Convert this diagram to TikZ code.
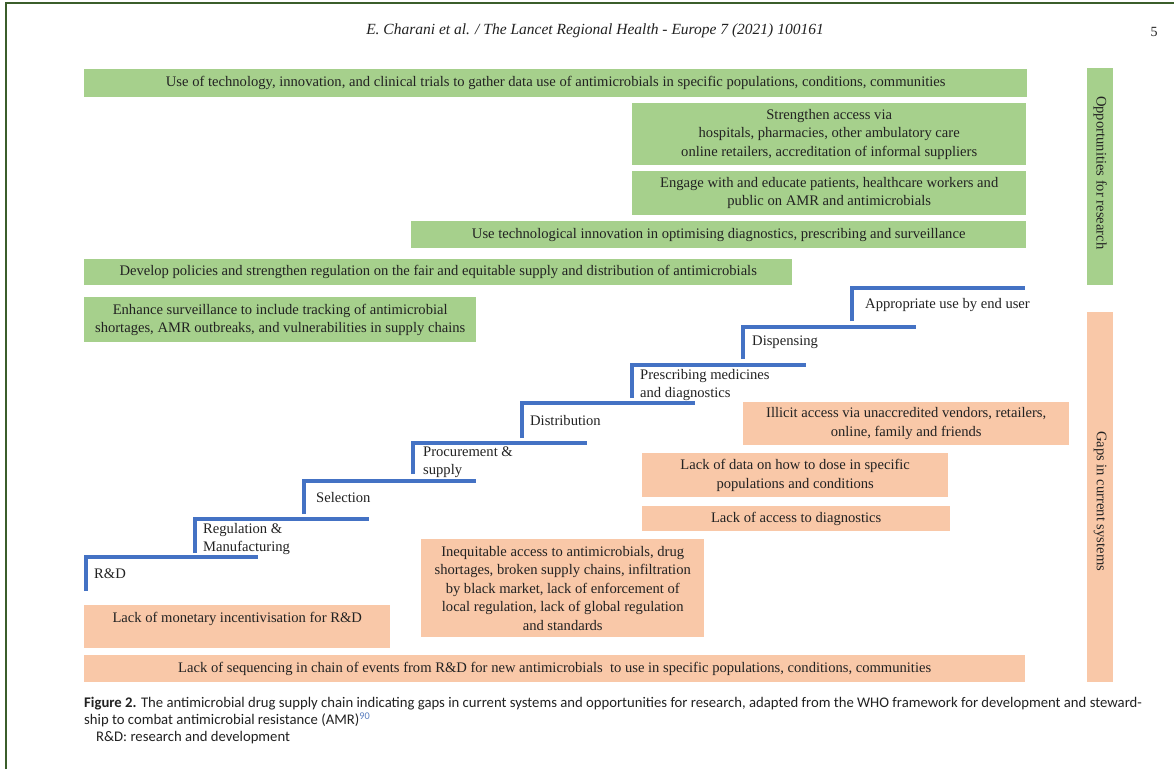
\documentclass[tikz,border=0pt]{standalone}
\usepackage{fontspec}
\setmainfont{Liberation Serif}
\newfontfamily\capfont{Carlito}
\usepackage{xcolor}
\definecolor{oppgreen}{HTML}{A6D08C}
\definecolor{gappeach}{HTML}{F9C8A8}
\definecolor{stairblue}{HTML}{4472C4}
\definecolor{framegreen}{HTML}{3B5E2B}
\definecolor{inkgrey}{HTML}{222222}
\definecolor{refblue}{HTML}{5B7FC0}
\newcommand{\chainfont}{\fontsize{14.6}{18.5}\selectfont}
\tikzset{
  gbox/.style = {fill=oppgreen, anchor=north west, inner sep=0pt, align=center, text=inkgrey, font=\chainfont},
  obox/.style = {fill=gappeach, anchor=north west, inner sep=0pt, align=center, text=inkgrey, font=\chainfont},
  sidebar/.style = {anchor=north west, inner sep=0pt, minimum width=26pt},
  stair/.style = {draw=stairblue, line width=3.5pt},
  steplabel/.style = {anchor=west, align=left, inner sep=0pt, text=inkgrey, font=\chainfont}
}

\begin{document}
\begin{tikzpicture}[x=1pt, y=-1pt]
\useasboundingbox (0,0) rectangle (1174,769);
\fill[white] (0,0) rectangle (1174,769);
\draw[framegreen, line width=2pt] (6,769) -- (6,3) -- (1174,3);

% running head
\node[text=inkgrey, font=\fontsize{15.5}{18}\selectfont\itshape] (head) at (595,31)
  {E. Charani et al. / The Lancet Regional Health - Europe 7 (2021) 100161};
\node[text=inkgrey, font=\fontsize{14}{16}\selectfont] (page) at (1154,32) {5};

% opportunities for research
\node[gbox, minimum width=943pt, minimum height=28pt] (tech) at (84,69)
  {Use of technology, innovation, and clinical trials to gather data use of antimicrobials in specific populations, conditions, communities};
\node[gbox, minimum width=394pt, minimum height=62pt] (access) at (632,103)
  {Strengthen access via\\hospitals, pharmacies, other ambulatory care\\online retailers, accreditation of informal suppliers};
\node[gbox, minimum width=394pt, minimum height=44pt] (engage) at (632,171)
  {Engage with and educate patients, healthcare workers and\\public on AMR and antimicrobials};
\node[gbox, minimum width=615pt, minimum height=27pt] (innov) at (411,221)
  {Use technological innovation in optimising diagnostics, prescribing and surveillance};
\node[gbox, minimum width=708pt, minimum height=26pt] (policy) at (84,259)
  {Develop policies and strengthen regulation on the fair and equitable supply and distribution of antimicrobials};
\node[gbox, minimum width=392pt, minimum height=45pt] (surveil) at (84,297)
  {Enhance surveillance to include tracking of antimicrobial\\shortages, AMR outbreaks, and vulnerabilities in supply chains};

% side bars
\node[sidebar, fill=oppgreen, minimum height=217pt] (oppbar) at (1087,68) {};
\node[text=inkgrey, font=\chainfont, rotate=-90] (opplbl) at ([yshift=4pt]oppbar.center) {Opportunities for research};
\node[sidebar, fill=gappeach, minimum height=370pt] (gapbar) at (1087,312) {};
\node[text=inkgrey, font=\chainfont, rotate=-90] (gaplbl) at ([yshift=-4pt]gapbar.center) {Gaps in current systems};

% supply chain steps
\draw[stair] (86,591) |- (258,557);
\node[steplabel] (rd) at (94,574) {R\&D};
\draw[stair] (195,553) |- (369,519);
\node[steplabel] (regul) at (203,539) {Regulation \&\\Manufacturing};
\draw[stair] (304,514) |- (476,481);
\node[steplabel] (select) at (316,497) {Selection};
\draw[stair] (413,474) |- (587,443);
\node[steplabel] (procure) at (423,462) {Procurement \&\\supply};
\draw[stair] (522,438) |- (695,403);
\node[steplabel] (distrib) at (530,420) {Distribution};
\draw[stair] (632,398) |- (806,365);
\node[steplabel] (prescr) at (640,385) {Prescribing medicines\\and diagnostics};
\draw[stair] (743,359) |- (916,327);
\node[steplabel] (dispens) at (752,342) {Dispensing};
\draw[stair] (852,321) |- (1025,288);
\node[steplabel] (enduse) at (865,305) {Appropriate use by end user};

% gaps in current systems
\node[obox, minimum width=326pt, minimum height=43pt] (illicit) at (743,402)
  {Illicit access via unaccredited vendors, retailers,\\online, family and friends};
\node[obox, minimum width=306pt, minimum height=44pt] (dosing) at (642,453)
  {Lack of data on how to dose in specific\\populations and conditions};
\node[obox, minimum width=308pt, minimum height=25pt] (diagn) at (642,506)
  {Lack of access to diagnostics};
\node[obox, minimum width=283pt, minimum height=98pt] (inequit) at (421,539)
  {Inequitable access to antimicrobials, drug\\shortages, broken supply chains, infiltration\\by black market, lack of enforcement of\\local regulation, lack of global regulation\\and standards};
\node[obox, minimum width=306pt, minimum height=43pt] (money) at (84,605)
  {Lack of monetary incentivisation for R\&D\\\mbox{}};
\node[obox, minimum width=941pt, minimum height=27pt] (sequence) at (84,655)
  {Lack of sequencing in chain of events from R\&D for new antimicrobials\ \ to use in specific populations, conditions, communities};

% caption
\node[anchor=north west, inner sep=0pt, align=left, text=inkgrey, font=\capfont\fontsize{14.7}{17}\selectfont] (caption) at (84,697)
  {\textbf{Figure 2.} The antimicrobial drug supply chain indicating gaps in current systems and opportunities for research, adapted from the WHO framework for development and steward-\\
   ship to combat antimicrobial resistance (AMR)\textsuperscript{\color{refblue}90}\\
   \hspace*{12pt}R\&D: research and development};
\end{tikzpicture}
\end{document}
